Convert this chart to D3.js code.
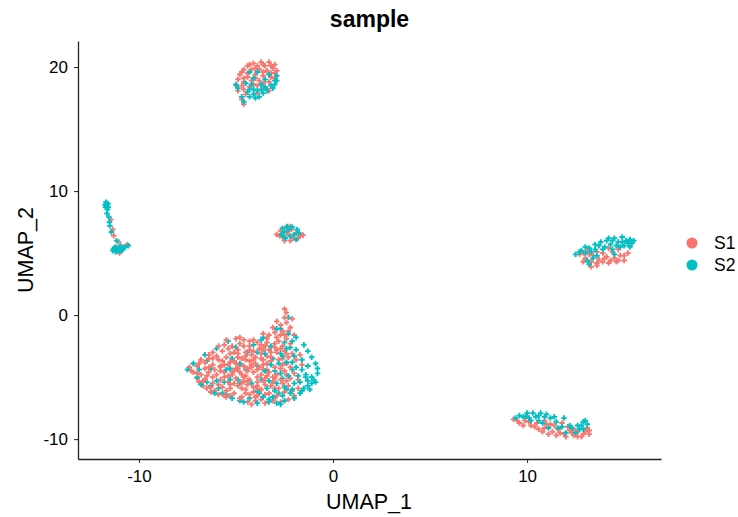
<!DOCTYPE html>
<meta charset="utf-8">
<style>
body { margin: 0; background: #fff; }
text { font-family: "Liberation Sans", Arial, sans-serif; }
</style>
<svg width="738" height="517"></svg>
<script src="https://d3js.org/d3.v7.min.js"></script>
<script>
"use strict";

var groups = ["S1", "S2"];
var xTicks = [-10, 0, 10];
var yTicks = [-10, 0, 10, 20];

// values, cluster by cluster
var mainS1 = [
[-4.4,-7],[-4,-6.9],[-3.5,-7.1],[-3.1,-6.9],[-2.7,-7],[-2.3,-6.8],
[-5.9,-6.4],[-5.5,-6.6],[-5.1,-6.3],[-4.7,-6.6],[-4.3,-6.4],[-3.9,-6.5],[-3.3,-6.3],[-2.9,-6.5],[-2.5,-6.2],[-2,-6.5],
[-6.5,-5.9],[-6.1,-6.1],[-5.7,-5.8],[-5.3,-5.9],[-4.9,-5.7],[-4.5,-6],[-4.1,-5.8],[-3.7,-6],[-3.2,-5.7],[-2.8,-5.9],[-2.3,-5.7],[-1.8,-5.9],
[-6.9,-5.4],[-6.6,-5.2],[-6.2,-5.5],[-5.8,-5.2],[-5.4,-5.4],[-5,-5.1],[-4.7,-5.4],[-4.3,-5.2],[-3.9,-5.4],[-3.5,-5.1],[-3.1,-5.4],[-2.7,-5.2],[-2.2,-5.1],
[-7.2,-4.6],[-6.8,-4.8],[-6.4,-4.6],[-6,-4.8],[-5.6,-4.6],[-5.2,-4.8],[-4.8,-4.6],[-4.5,-4.9],[-4.1,-4.6],[-3.7,-4.8],[-3.3,-4.6],[-2.9,-4.8],[-2.5,-4.5],[-2,-4.7],
[-7.4,-4.2],[-7,-4.1],[-6.6,-4.3],[-6.2,-4],[-5.8,-4.2],[-5.4,-4],[-5,-4.3],[-4.6,-4.1],[-4.2,-4],[-4.4,-4.3],[-3.8,-4.2],[-3.4,-3.9],[-3,-4.2],[-2.6,-4],[-2.2,-4.2],
[-6.8,-3.6],[-6.4,-3.5],[-5.9,-3.6],[-5.5,-3.4],[-5.1,-3.7],[-4.7,-3.5],[-4.3,-3.7],[-4,-3.4],[-3.6,-3.6],[-3.2,-3.4],[-2.8,-3.6],[-2.3,-3.4],[-1.9,-3.6],
[-6.2,-3],[-5.7,-2.9],[-5.3,-3.1],[-4.9,-2.8],[-4.5,-3],[-4.1,-2.9],[-3.7,-3.1],[-3.3,-2.8],[-2.9,-3],[-2.5,-2.9],[-2.1,-3.1],
[-5.6,-2.4],[-5.2,-2.5],[-4.8,-2.3],[-4.3,-2.5],[-3.9,-2.2],[-3.5,-2.5],[-3,-2.3],[-2.6,-2.5],[-2.2,-2.3],
[-5,-1.9],[-4.6,-2],[-3.4,-1.9],[-2.9,-1.8],[-2.4,-1.9],[-3.6,-1.5],[-3,-1.4],[-2.6,-1.3],
[-3.1,-1],[-2.7,-0.8],[-2.4,-0.6],[-2.2,-1],[-2.5,0.5],[-2.4,0.2],[-2.5,-0.2],
[-4.5,-3.3],[-3.9,-4.4],[-3.5,-5.6],[-4.9,-4.3],[-4.2,-3.2],[-3.4,-4.4],[-5.6,-5],[-6.1,-4.4],[-2.6,-5.5],[-3,-2.6],[-4.1,-6.2],[-5.3,-3.8],
[-4.2,-7.2],[-3.7,-6.8],[-3,-6.7],[-5.3,-6.5],[-4.5,-6.3],[-3.5,-6.4],[-6.3,-6.2],[-5.5,-6.1],[-4.7,-5.9],[-3.9,-5.7],[-3,-5.9],
[-6.7,-5.7],[-5.9,-5.6],[-5.1,-5.5],[-4.4,-5.6],[-3.6,-5.3],[-2.4,-5.3],[-7,-5.1],[-6.2,-5],[-5.4,-4.9],[-4.6,-5],[-3.9,-5],[-3.1,-5],[-2.4,-4.8],
[-6.5,-4.9],[-5.8,-4.5],[-5.1,-4.5],[-4.4,-4.5],[-3.6,-4.4],[-2.7,-4.3],[-6.4,-4.2],[-5.6,-4],[-4.8,-4],[-4,-3.9],[-3.2,-3.7],[-2.4,-3.9],
[-6.6,-3.8],[-5.7,-3.7],[-4.9,-3.4],[-4.1,-3.6],[-3.4,-3.3],[-2.6,-3.5],[-6,-3.3],[-5.1,-3],[-4.3,-2.8],[-3.6,-2.8],[-2.7,-2.7],[-5.4,-2.7],[-4.6,-2.5],[-3.7,-2.4],[-2.8,-2.1],
[-4.1,-2],[-3.3,-1.6],[-2.7,-1.6],[-2.3,-1.3],[-2.9,-0.5],[-2.1,-0.3],[-2,-1.6],[-2.4,-3.1],[-1.7,-3.2],[-1.6,-4],[-1.8,-5.2],[-2.1,-6.1]
];
var mainS2 = [
[-3.9,-7.1],[-3.3,-7],[-2.9,-7.1],[-2.5,-6.9],[-4.8,-6.9],
[-5.7,-6.3],[-3.6,-6.6],[-3.1,-6.6],[-2.6,-6.5],[-2.2,-6.3],[-1.7,-6.3],
[-6.3,-5.7],[-3.9,-6.1],[-3,-6.1],[-2.5,-5.8],[-2.1,-6],[-1.5,-5.9],[-1.3,-5.7],
[-7,-5],[-5.3,-5.2],[-3.3,-5.3],[-2.9,-5.5],[-2,-5.5],[-1.7,-5.4],[-1.3,-5.3],[-1.1,-5.5],
[-7.5,-4.4],[-5.5,-4.4],[-3.5,-4.5],[-2.7,-4.7],[-2.3,-4.9],[-1.8,-4.9],[-1.4,-4.8],[-1.1,-5],[-0.8,-4.7],
[-7.2,-3.9],[-4.8,-3.9],[-3.2,-4],[-2.4,-3.8],[-1.9,-4.2],[-1.6,-4.4],[-1.3,-4.1],[-0.9,-3.9],[-0.8,-4.3],
[-6.6,-3.2],[-2.6,-3.3],[-2,-3.3],[-1.6,-3.6],[-1.1,-3.4],
[-6,-2.7],[-3.5,-3.1],[-2.4,-2.7],[-1.9,-2.8],[-1.3,-2.9],
[-5.4,-2.1],[-2.1,-2.1],[-1.5,-2.4],[-1.9,-1.8],
[-2.9,-1.1],[-2.3,-1.5],[-3.7,-2],[-2.8,-3.9],[-6,-5.3],
[-1,-5.2],[-1.4,-5],[-0.9,-5.4],[-1.2,-6],[-1.6,-6.1],[-2,-6.7],[-2.7,-7.2],[-3.3,-6.8],[-4.6,-7],[-5.2,-6.7],[-6.1,-6.3],[-6.8,-5.6]
];
var mainS2Under = [
[-5.5,-6.4],[-4.3,-6.7],[-3.8,-6.3],[-2.8,-6.3],[-2.4,-6],[-5.9,-5.9],[-4.8,-5.5],[-4.2,-5.5],[-3.4,-5.9],[-2.6,-5.1],[-6.5,-5.4],
[-5.6,-5.4],[-4.9,-5.2],[-3.7,-5.2],[-3,-4.5],[-2.1,-4.4],[-6.9,-4.4],[-6.3,-4.3],[-5.3,-4.3],[-4.5,-4.4],[-3.9,-4.1],[-3.1,-3.5],[-2.1,-3.8],
[-6.5,-3.7],[-5.2,-3.5],[-4.4,-3],[-3.9,-3],[-2.7,-3.1],[-2.2,-2.6],[-5,-2.6],[-4.1,-2.4],[-3.2,-2.5],[-2.5,-2.2],[-3.6,-1.8],[-2.7,-1.1],[-2.3,-0.2]
];
var mainS1Over = [
[-5.9,-2.5],[-5.5,-2],[-4.8,-1.8],[-4.3,-2.1],[-6.4,-3.2],[-6.9,-3.9],[-7.3,-4.5],[-7,-4.7],[-6.7,-5.3],[-6.3,-5.8],[-5.6,-6.5],[-4.8,-6.7],
[-4.7,-4.8],[-4.2,-4.2],[-3.7,-3.5],[-4.4,-5.3],[-5,-3.9],[-3.4,-4.9],[-3.9,-5.9],[-5.3,-5.6],[-4.9,-3.1],[-3.2,-3],[-4.5,-3.6],[-3.6,-4],
[-5.8,-4.1],[-6.2,-3.5],[-3,-5.1],[-4,-6.6],[-3.4,-2.2],[-2.9,-2.8],[-5.2,-4.6],[-4.6,-5.4],[-3.8,-2.7],[-2.5,-1.6]
];
var topS1 = [
[-4.1,20.3],[-3.7,20.4],[-3.3,20.4],[-3,20.2],[-4.4,20.1],[-3.9,20.1],[-3.5,20.1],[-3.1,19.9],[-2.9,19.7],
[-4.6,19.8],[-4.2,19.8],[-3.8,19.8],[-3.4,19.7],[-3,19.5],[-4.8,19.4],[-4.4,19.5],[-4,19.4],[-3.6,19.3],[-3.2,19.2],
[-4.9,19],[-4.6,19.1],[-4.2,18.9],[-3.8,18.9],[-3.3,18.8],[-5,18.5],[-4.7,18.5],[-4.3,18.4],[-3.9,18.5],
[-4.9,18.1],[-4.5,17.8],[-3.9,17.9],[-4.6,17],[-4.7,17.4],[-3.5,18.3],
[-3.6,20.2],[-4.3,20.2],[-3.2,20.1],[-4,19.9],[-3.6,19.6],[-4.7,19.6],[-3.2,19.5],[-4.4,19.2],[-4,19.1],[-3,19.1],[-4.6,18.8],[-3.6,18.7],[-4.1,18.6],[-4.6,18.2],[-3.3,18.1]
];
var topS2 = [
[-4.3,19.6],[-3.9,19.6],[-3.3,19.4],[-2.9,19.3],[-4.1,19.1],[-3.5,19],[-3,18.9],
[-5,18.6],[-4.5,18.7],[-3.7,18.6],[-3.2,18.5],[-2.9,18.9],[-4.1,18.2],[-3.7,18.2],[-3.4,18.1],[-3.1,18.3],
[-4.9,18.3],[-4.4,18],[-4.1,17.8],[-3.8,17.6],[-3.6,17.9],[-4.3,17.6],[-4.7,17.6],[-4.6,17.2],
[-4.3,18.2],[-3.9,18.1],[-3.5,18.4],[-3,18.6],[-4,17.5],[-4.2,18.6]
];
var leftS1 = [
[-11.45,7.7],[-11.35,6.9],[-11.3,6.4],[-11.05,5.9],[-10.8,5.5],[-10.6,5.7],[-11,5],[-11.2,5.5]
];
var leftS2 = [
[-11.7,9.1],[-11.65,8.9],[-11.72,8.7],[-11.62,8.5],[-11.65,8.2],[-11.55,7.9],[-11.52,7.5],[-11.5,7.2],[-11.42,6.7],
[-11.15,6],[-11.35,5.2],[-11.25,5.45],[-11.2,5.1],[-11.1,5.3],[-11,5.35],[-10.9,5.2],[-10.8,5.4],[-10.7,5.5],[-10.95,5.6],[-11.05,5.15],[-10.55,5.6],
[-11.6,9],[-11.75,8.9],[-11.58,8.7],[-11.3,5.35],[-11.15,5.4],[-10.85,5.3]
];
var midS1 = [
[-2.9,6.5],[-2.7,6.8],[-2.6,6.3],[-2.4,7.1],[-2.3,6.5],[-2.15,6.9],[-2.05,6.2],[-1.9,6.6],[-1.7,6.4],[-1.55,6.45],[-2.2,7.15],[-2.5,6],[-2.2,6],[-2.75,6.4],[-2.35,6.75],[-1.8,6.2]
];
var midS2 = [
[-2.6,7],[-2.5,6.7],[-2.45,6.2],[-2.3,6.9],[-2.1,7.1],[-2,6.5],[-1.85,6.9],[-1.9,6.1],[-2.65,6.5],[-1.75,6.6],[-2.2,6.35],[-2.55,6.35],[-2.35,7.15]
];
var rightS1 = [
[12.7,4.9],[13,4.6],[13.3,4.3],[13.4,4.8],[13.7,4.5],[14,4.6],[14.2,4.2],[14.5,4.6],[14.8,4.8],[15,4.4],[13.9,5],[14.4,5.1],[13.1,5.2],[12.9,4.3],[13.6,4],[14.7,5.3],[15.2,5],[14.1,4.7],
[13.2,4.9],[13.6,4.2],[13.9,4.3],[14.3,4.4],[14.7,4.4],[15,4.8],[13.6,5.1],[14.2,5.4],[13.3,3.9],[14.6,4.3],[12.9,5]
];
var rightS2 = [
[12.5,4.9],[12.8,5.2],[13,5],[13.2,5.4],[13.5,5.3],[13.7,5.6],[13.4,4.6],[13.1,4.4],[14,5.5],[14.3,5.7],[14.1,6],[14.5,6.2],[14.7,5.9],[14.9,6.3],[15.1,6],[15.3,6.1],[15.5,6],[14.8,5.5],[15,5.6],[15.3,5.5],[14.4,5.3],[13.8,5.9],[14.5,4.9],
[12.7,5.1],[13,5.5],[13.3,5.1],[13.6,4.8],[13.2,4.1],[13.9,5.3],[14.2,6.2],[14.6,5.6],[15.2,5.8],[14.9,5.9],[15.4,5.8],[13.5,5.7],[14.4,6]
];
var lowS1 = [
[9.3,-8.4],[9.6,-8.7],[9.9,-8.5],[10.2,-8.9],[10.5,-8.7],[10.6,-9.2],[10.9,-9.1],[11.2,-8.8],[11.3,-9.4],[11.6,-9.2],[11.8,-8.7],[11.9,-9.6],[12.2,-9.3],[12.4,-9.7],[12.6,-9.4],[12.8,-9.8],[13,-9.4],[13.2,-9.6],[11.5,-9.7],[10.9,-8.5],[12.1,-9],[13.1,-9.1],
[9.5,-8.5],[9.8,-8.9],[10.1,-8.6],[10.4,-9],[10.8,-9.4],[11.1,-9.6],[11.4,-8.9],[11.7,-9.5],[12,-9.8],[12.3,-9.5],[12.6,-9.8],[12.9,-9.6],[13.2,-9.3],[12.4,-9.2],[11,-8.8]
];
var lowS2 = [
[9.4,-8.3],[9.8,-8.2],[10.1,-8.3],[10.3,-7.9],[10.6,-8.1],[10.9,-8.2],[10.2,-8.5],[10.8,-8.7],[11.2,-8.3],[11.5,-8.6],[11.1,-9.1],[11.8,-9],[12,-9.5],[12.3,-9.1],[12.6,-8.9],[12.9,-8.6],[13.1,-8.8],[12.7,-9.2],[11.9,-8.3],[10,-7.9],
[9.6,-8.1],[9.95,-8.15],[10.45,-8.2],[10.7,-7.9],[11,-8],[10.6,-8.5],[11.4,-8.2],[11.6,-9.1],[12.2,-8.9],[12.8,-8.9],[13,-8.5],[12.5,-9.5],[12.9,-9.2]
];

var s1Points = mainS1.concat(topS1, leftS1, midS1, rightS1, lowS1);
var s2Points = mainS2.concat(topS2, leftS2, midS2, rightS2, lowS2);

var colors = d3.scaleOrdinal().domain(groups).range(["#F8766D", "#00BFC4"]);

var svg = d3.select("svg");

var x = d3.scaleLinear().domain([-13.14, 16.9]).range([78, 661]);
var y = d3.scaleLinear().domain([-11.6, 22.1]).range([459, 41]);

// the dots in the picture are tiny plus signs
var dot = d3.symbol().type(d3.symbolCross).size(17);

function drawPoints(pts, group) {
  svg.append("g")
    .selectAll("path")
    .data(pts)
    .enter().append("path")
      .attr("d", dot)
      .attr("fill", colors(group))
      .attr("transform", function(d) { return "translate(" + x(d[0]) + "," + y(d[1]) + ")"; });
}
drawPoints(mainS2Under, "S2");
drawPoints(s1Points, "S1");
drawPoints(s2Points, "S2");
drawPoints(mainS1Over, "S1");

var xAxis = svg.append("g")
    .attr("transform", "translate(0,459)")
    .call(d3.axisBottom(x).tickValues(xTicks).tickSize(4).tickSizeOuter(0).tickPadding(7).tickFormat(function(d) { return String(d); }));
var yAxis = svg.append("g")
    .attr("transform", "translate(78,0)")
    .call(d3.axisLeft(y).tickValues(yTicks).tickSize(4).tickSizeOuter(0).tickPadding(6).tickFormat(function(d) { return String(d); }));

[xAxis, yAxis].forEach(function(a) {
  a.select(".domain").attr("stroke", "#222").attr("stroke-width", 1.3);
  a.selectAll(".tick line").attr("stroke", "#222").attr("stroke-width", 1);
  a.selectAll("text").attr("fill", "#000").style("font-size", "17px")
   .style("font-family", '"Liberation Sans", Arial, sans-serif');
});

svg.append("text").attr("x", 369.5).attr("y", 27).attr("text-anchor", "middle")
  .style("font-size", "23px").style("font-weight", "bold").text("sample");
svg.append("text").attr("x", 369).attr("y", 509).attr("text-anchor", "middle")
  .style("font-size", "21.5px").text("UMAP_1");
svg.append("text").attr("transform", "translate(33,250) rotate(-90)").attr("text-anchor", "middle")
  .style("font-size", "21.5px").text("UMAP_2");

var legend = svg.append("g").selectAll("g")
  .data(groups)
  .enter().append("g")
    .attr("transform", function(d, i) { return "translate(692," + (243 + i * 22) + ")"; });
legend.append("circle").attr("r", 5.5).attr("fill", function(d) { return colors(d); });
legend.append("text").attr("x", 22).attr("y", 6).style("font-size", "17.5px").text(function(d) { return d; });
</script>
